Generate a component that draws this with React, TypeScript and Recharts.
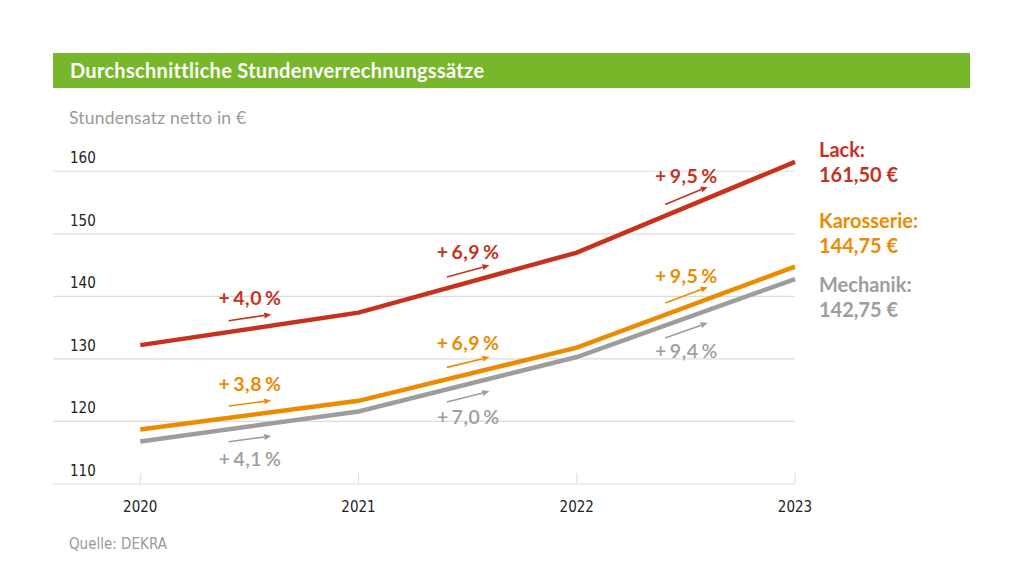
import React from 'react';
import { LineChart, Line, XAxis, YAxis, CartesianGrid, ReferenceLine } from 'recharts';

const years = [2020, 2021, 2022, 2023];
const lack = [132.2, 137.4, 147.0, 161.5];
const karosserie = [118.7, 123.3, 131.8, 144.75];
const mechanik = [116.8, 121.6, 130.3, 142.75];

const lackGrowth = ['+\u20094,0\u2009%', '+\u20096,9\u2009%', '+\u20099,5\u2009%'];
const karosserieGrowth = ['+\u20093,8\u2009%', '+\u20096,9\u2009%', '+\u20099,5\u2009%'];
const mechanikGrowth = ['+\u20094,1\u2009%', '+\u20097,0\u2009%', '+\u20099,4\u2009%'];

const yTicks = [110, 120, 130, 140, 150, 160];

const RED = '#c7321f';
const ORANGE = '#ec8b00';
const GRAY = '#9d9d9d';
const GREEN = '#76b82a';

const LABEL_FONT = 'Lato, "Open Sans", sans-serif';
const NARROW_FONT = '"Liberation Sans Narrow", "DejaVu Sans Condensed", Roboto, sans-serif';

const chartData = years.map((year, i) => ({
  year,
  lack: lack[i],
  karosserie: karosserie[i],
  mechanik: mechanik[i],
}));

const series = [
  { key: 'lack', name: 'Lack:', values: lack, growth: lackGrowth, color: RED, offset: 1.8 },
  { key: 'karosserie', name: 'Karosserie:', values: karosserie, growth: karosserieGrowth, color: ORANGE, offset: 1.9 },
  { key: 'mechanik', name: 'Mechanik:', values: mechanik, growth: mechanikGrowth, color: GRAY, offset: -2.0 },
];

const fmtEuro = (v: number) => v.toFixed(2).replace('.', ',') + ' €';

function Arrow(props: any) {
  const { x1, y1, x2, y2, color, text, above } = props;
  if (x1 == null) return null;
  const ang = Math.atan2(y2 - y1, x2 - x1);
  const h = 7;
  const w = 3;
  const bx = x2 - h * Math.cos(ang);
  const by = y2 - h * Math.sin(ang);
  const px = -Math.sin(ang) * w;
  const py = Math.cos(ang) * w;
  const mx = (x1 + x2) / 2;
  const my = (y1 + y2) / 2;
  return (
    <g>
      <line x1={x1} y1={y1} x2={bx} y2={by} stroke={color} strokeWidth={1.6} />
      <polygon points={`${x2},${y2} ${bx + px},${by + py} ${bx - px},${by - py}`} fill={color} />
      <text
        x={mx}
        y={above ? my - 20 : my + 20}
        textAnchor="middle"
        dominantBaseline="central"
        fill={color}
        fontFamily={LABEL_FONT}
        fontWeight={above ? 700 : 600}
        fontSize={19.5}
        letterSpacing={0.5}
      >
        {text}
      </text>
    </g>
  );
}

const YTick = (props: any) => {
  const { y, payload } = props;
  return (
    <text x={70} y={y - 13} dominantBaseline="central" fill="#222" fontFamily={NARROW_FONT} fontSize={15}>
      {payload.value}
    </text>
  );
};

const XTick = (props: any) => {
  const { x, y, payload } = props;
  return (
    <g>
      <line x1={x} y1={y - 1} x2={x} y2={y - 11} stroke="#dcdcdc" />
      <text x={x} y={y + 23} textAnchor="middle" dominantBaseline="central" fill="#222" fontFamily={NARROW_FONT} fontSize={15}>
        {payload.value}
      </text>
    </g>
  );
};

export default function App() {
  return (
    <div style={{ position: 'absolute', left: 0, top: 0, width: 1024, height: 576, background: '#fff', overflow: 'hidden' }}>
      <div
        style={{
          position: 'absolute',
          left: 53,
          top: 53,
          width: 917,
          height: 35,
          background: GREEN,
          color: '#fff',
          fontFamily: LABEL_FONT,
          fontWeight: 700,
          fontSize: 20,
          letterSpacing: 0.3,
          lineHeight: '35px',
          paddingLeft: 17,
          boxSizing: 'border-box',
        }}
      >
        Durchschnittliche Stundenverrechnungssätze
      </div>
      <div style={{ position: 'absolute', left: 69, top: 107, color: '#9a9a9a', fontFamily: LABEL_FONT, fontSize: 17.5, letterSpacing: 0.2 }}>
        Stundensatz netto in €
      </div>
      <div style={{ position: 'absolute', left: 69, top: 535, color: '#9a9a9a', fontFamily: NARROW_FONT, fontSize: 15 }}>
        Quelle: DEKRA
      </div>

      <div style={{ position: 'absolute', left: 0, top: 0 }}>
        <LineChart width={1024} height={576} data={chartData} margin={{ top: 140, right: 229, bottom: 91, left: 53 }}>
          <CartesianGrid horizontal vertical={false} stroke="#dcdcdc" strokeWidth={1.2} horizontalValues={yTicks} />
          <XAxis
            dataKey="year"
            type="number"
            domain={[2019.6, 2023]}
            ticks={years}
            height={1}
            axisLine={false}
            tickLine={false}
            tickSize={0}
            tickMargin={0}
            tick={<XTick />}
          />
          <YAxis
            type="number"
            domain={[110, 165]}
            ticks={yTicks}
            width={1}
            mirror
            axisLine={false}
            tickLine={false}
            tickSize={0}
            tickMargin={0}
            tick={<YTick />}
            interval={0}
          />
          {series.map((s) => (
            <Line
              key={s.key}
              dataKey={s.key}
              stroke={s.color}
              strokeWidth={4.5}
              dot={false}
              isAnimationActive={false}
            />
          ))}
          {series.flatMap((s) =>
            s.growth.map((g, i) => {
              const d = s.values[i + 1] - s.values[i];
              const a = s.values[i] + 0.405 * d + s.offset;
              const b = s.values[i] + 0.6 * d + s.offset;
              return (
                <ReferenceLine
                  key={s.key + i}
                  segment={[
                    { x: years[i] + 0.405, y: a },
                    { x: years[i] + 0.6, y: b },
                  ]}
                  ifOverflow="visible"
                  shape={(p: any) => <Arrow {...p} color={s.color} text={g} above={s.offset > 0} />}
                />
              );
            })
          )}
        </LineChart>
      </div>

      {series.map((s, i) => (
        <div
          key={s.key}
          style={{
            position: 'absolute',
            left: 819,
            top: [137, 208, 272][i],
            color: s.color,
            fontFamily: LABEL_FONT,
            fontWeight: 700,
            fontSize: 20,
            lineHeight: '25px',
          }}
        >
          <div>{s.name}</div>
          <div>{fmtEuro(s.values[s.values.length - 1])}</div>
        </div>
      ))}
    </div>
  );
}
